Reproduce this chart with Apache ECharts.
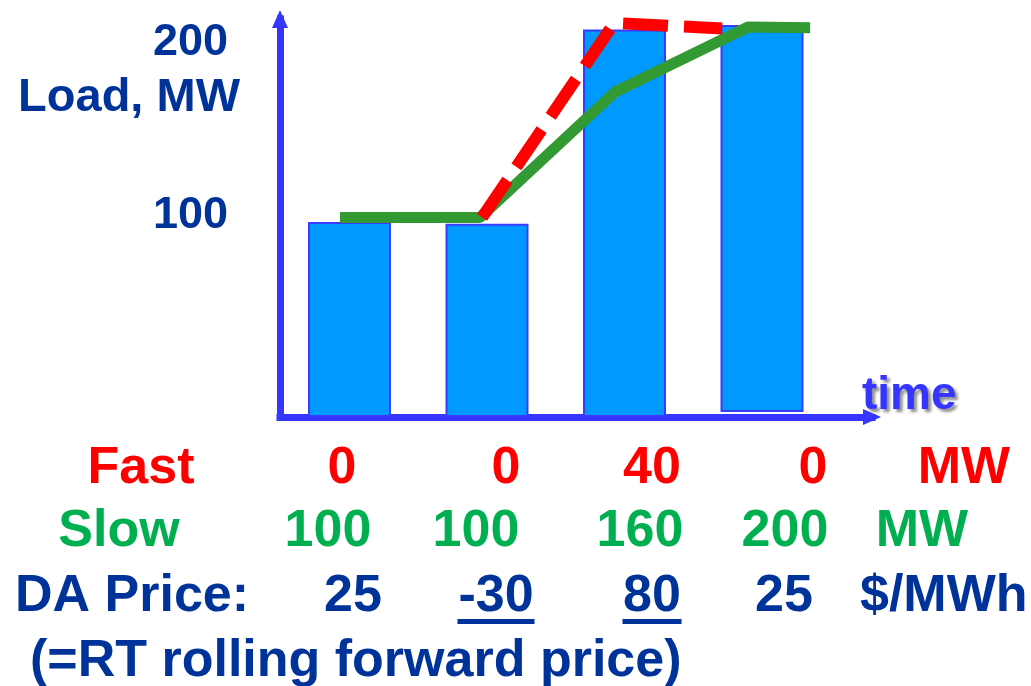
<!DOCTYPE html>
<html>
<head>
<meta charset="utf-8">
<title>Load, MW</title>
<script src="https://cdn.jsdelivr.net/npm/echarts@6/dist/echarts.min.js"></script>
<style>
  html, body { margin: 0; padding: 0; background: #fff; }
  #chart { width: 1031px; height: 686px; }
</style>
</head>
<body>
<div id="chart"></div>
<script>
// ---- data ----
// time slots for the load bars
const slots = ['t1', 't2', 't3', 't4'];
// load bars, MW (the last bar floats a little above the axis)
const loadBase = [0, 0, 0, 2.6];
const loadMW = [99.9, 99, 198.6, 198.3];
// slow units output, MW (green line), time in slot units
const slowT = [0.436, 1.455, 2.436, 3.404, 3.855];
const slowMW = [102.3, 102.3, 166.6, 199.9, 199.5];
// slow + fast output, MW (red dashed line)
const totalT = [1.47, 2.43, 3.215];
const totalMW = [102.3, 202, 199.1];
// tick labels and table rows
const yTicks = ['100', '200'];
const fastRow = ['0', '0', '40', '0'];
const slowRow = ['100', '100', '160', '200'];
const priceRow = ['25', '-30', '80', '25'];
const underlined = ['-30', '80'];

// ---- layout / style ----
const FONT = '"Liberation Sans", Arial, Helvetica, sans-serif';
const NAVY = '#003399', RED = '#ff0000', GREEN_TXT = '#00b050', AXIS = '#3535ff';

const chart = echarts.init(document.getElementById('chart'));

function txt(str, x, y, size, color, align, extra) {
  return Object.assign({
    type: 'text', x: x, y: y, silent: true,
    style: {
      text: str, fill: color, font: 'bold ' + size + 'px ' + FONT,
      align: align || 'center', verticalAlign: 'middle'
    }
  }, extra || {});
}

const graphics = [];
// y axis labels
const tickY = [215.5, 43];
yTicks.forEach((t, i) => graphics.push(txt(t, 228, tickY[i], 45, NAVY, 'right')));
graphics.push(txt('Load, MW', 240, 98.5, 47, NAVY, 'right'));
// x axis name with shadow
graphics.push({
  type: 'text', x: 862, y: 396, silent: true,
  style: {
    text: 'time', fill: AXIS, font: 'bold 46px ' + FONT, align: 'left', verticalAlign: 'middle',
    textShadowColor: 'rgba(0,0,0,0.45)', textShadowBlur: 3, textShadowOffsetX: 3, textShadowOffsetY: 3
  }
});

// table below the chart
const fastCols = [342, 506, 652, 813];
const slowCols = [328, 476, 640, 785];
const priceCols = [353, 496, 652, 784];
const rowY = [468.5, 532, 597, 662];

graphics.push(txt('Fast', 141, rowY[0], 52, RED));
fastRow.forEach((v, i) => graphics.push(txt(v, fastCols[i], rowY[0], 52, RED)));
graphics.push(txt('MW', 964, rowY[0], 52, RED));

graphics.push(txt('Slow', 119, rowY[1], 52, GREEN_TXT));
slowRow.forEach((v, i) => graphics.push(txt(v, slowCols[i], rowY[1], 52, GREEN_TXT)));
graphics.push(txt('MW', 922, rowY[1], 52, GREEN_TXT));

graphics.push(txt('DA Price:', 15, rowY[2], 52, NAVY, 'left'));
priceRow.forEach((v, i) => {
  graphics.push(txt(v, priceCols[i], rowY[2], 52, NAVY));
  if (underlined.indexOf(v) >= 0) {
    const w = v.length === 3 ? 77 : 59;
    graphics.push({
      type: 'rect', silent: true,
      shape: { x: priceCols[i] - w / 2, y: 619, width: w, height: 5 },
      style: { fill: NAVY }
    });
  }
});
graphics.push(txt('$/MWh', 860, rowY[2], 52, NAVY, 'left'));
graphics.push(txt('(=RT rolling forward price)', 30, rowY[3], 52, NAVY, 'left'));

const hidden = {
  axisLine: { show: false }, axisTick: { show: false },
  axisLabel: { show: false }, splitLine: { show: false }
};

const option = {
  animation: false,
  backgroundColor: '#fff',
  grid: [
    { left: 280, top: 19, width: 592, height: 398 },      // axes + lines
    { left: 280.75, top: 19, width: 550, height: 398 }    // bars, one band per slot
  ],
  xAxis: [
    {
      type: 'value', min: 0, max: 4.305, offset: 3.5, gridIndex: 0,
      axisLine: {
        show: true, symbol: ['none', 'triangle'], symbolSize: [16, 18],
        lineStyle: { color: AXIS, width: 7, cap: 'square' }
      },
      axisTick: { show: false }, axisLabel: { show: false }, splitLine: { show: false }
    },
    Object.assign({ type: 'category', data: slots, gridIndex: 1 }, hidden)
  ],
  yAxis: [
    {
      type: 'value', min: 0, max: 204, gridIndex: 0,
      axisLine: {
        show: true, symbol: ['none', 'triangle'], symbolSize: [16, 18],
        lineStyle: { color: AXIS, width: 7, cap: 'square' }
      },
      axisTick: { show: false }, axisLabel: { show: false }, splitLine: { show: false }
    },
    Object.assign({ type: 'value', min: 0, max: 204, gridIndex: 1 }, hidden)
  ],
  series: [
    {
      name: 'base', type: 'bar', stack: 'load', barWidth: 83, silent: true,
      xAxisIndex: 1, yAxisIndex: 1, z: 3,
      data: loadBase,
      itemStyle: { color: 'rgba(0,0,0,0)' }
    },
    {
      name: 'Load', type: 'bar', stack: 'load', barWidth: 83,
      xAxisIndex: 1, yAxisIndex: 1, z: 3,
      data: loadMW,
      itemStyle: { color: '#0099ff', borderColor: '#3b3bff', borderWidth: 2 }
    },
    {
      name: 'Slow', type: 'line', showSymbol: false, symbol: 'none', z: 4,
      data: slowT.map((t, i) => [t, slowMW[i]]),
      lineStyle: { color: '#339933', width: 11, cap: 'butt', join: 'bevel' }
    },
    {
      name: 'Fast + Slow', type: 'line', showSymbol: false, symbol: 'none', z: 5,
      data: totalT.map((t, i) => [t, totalMW[i]]),
      lineStyle: { color: RED, width: 12, type: [45, 16], cap: 'butt', join: 'bevel' }
    }
  ],
  graphic: graphics
};
chart.setOption(option);
</script>
</body>
</html>
